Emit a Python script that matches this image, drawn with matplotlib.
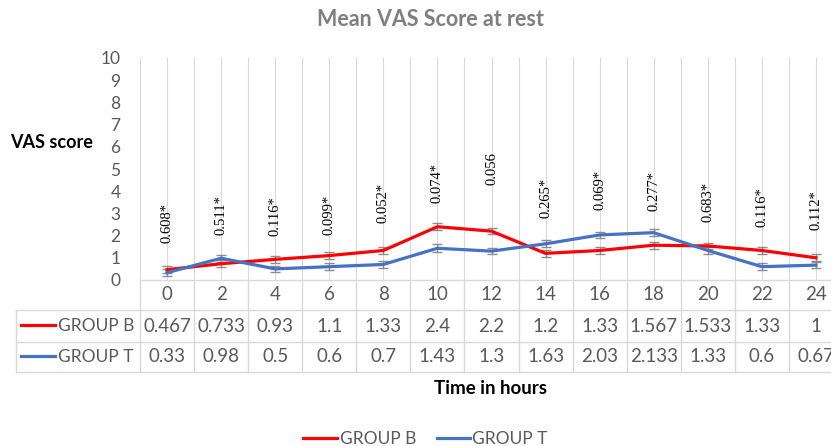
import numpy as np
import matplotlib
matplotlib.use("Agg")
import matplotlib.pyplot as plt
from matplotlib.lines import Line2D
from matplotlib.transforms import blended_transform_factory

# ---- data ----
hours = ["0", "2", "4", "6", "8", "10", "12", "14", "16", "18", "20", "22", "24"]
group_b = [0.467, 0.733, 0.93, 1.1, 1.33, 2.4, 2.2, 1.2, 1.33, 1.567, 1.533, 1.33, 1]
group_t = [0.33, 0.98, 0.5, 0.6, 0.7, 1.43, 1.3, 1.63, 2.03, 2.133, 1.33, 0.6, 0.67]
err_b = [0.15, 0.15, 0.15, 0.15, 0.15, 0.17, 0.15, 0.15, 0.15, 0.15, 0.15, 0.15, 0.15]
err_t = [0.15, 0.16, 0.15, 0.15, 0.15, 0.17, 0.15, 0.15, 0.15, 0.15, 0.15, 0.15, 0.15]
b_labels = ["0.467", "0.733", "0.93", "1.1", "1.33", "2.4", "2.2", "1.2", "1.33", "1.567", "1.533", "1.33", "1"]
t_labels = ["0.33", "0.98", "0.5", "0.6", "0.7", "1.43", "1.3", "1.63", "2.03", "2.133", "1.33", "0.6", "0.67"]
p_values = ["0.608*", "0.511*", "0.116*", "0.099*", "0.052*", "0.074*", "0.056",
            "0.265*", "0.069*", "0.277*", "0.683*", "0.116*", "0.112*"]
p_label_y = [2.57, 2.95, 2.86, 2.93, 3.49, 4.39, 5.0, 3.72, 4.08, 4.03, 3.54, 3.27, 3.15]

W, H = 831, 446
RED = "#FF0000"
BLUE = "#4472C4"
GRID = "#d9d9d9"
TXT = "#595959"
FONT = "Lato"

plt.rcParams["font.family"] = [FONT, "DejaVu Sans"]

fig = plt.figure(figsize=(W / 100, H / 100), dpi=100)

def fx(px):
    return px / W

def fy(py):
    return 1 - py / H

ax_left, ax_right, ax_top, ax_bot = 140, 843, 58, 280
ax = fig.add_axes([fx(ax_left), fy(ax_bot), fx(ax_right - ax_left), (ax_bot - ax_top) / H])
x = np.arange(len(hours))
ax.set_xlim(-0.5, len(hours) - 0.5)
ax.set_ylim(0, 10)
for s in ax.spines.values():
    s.set_visible(False)
ax.set_xticks(np.arange(-0.5, len(hours), 0.5))
ax.set_xticklabels([])
ax.tick_params(axis="x", length=0)
ax.grid(axis="x", color=GRID, lw=0.8)
ax.set_axisbelow(True)
ax.set_yticks(range(0, 11))
ax.tick_params(axis="y", length=0, pad=14, labelsize=12.5, labelcolor=TXT)

ax.errorbar(x, group_b, yerr=err_b, color=RED, lw=2.3, ecolor="#8c8c8c",
            elinewidth=1, capsize=3.5, capthick=1, zorder=3)
ax.errorbar(x, group_t, yerr=err_t, color=BLUE, lw=2.3, ecolor="#8c8c8c",
            elinewidth=1, capsize=3.5, capthick=1, zorder=3)

for xi, lab, yv in zip(x, p_values, p_label_y):
    ax.text(xi, yv, lab, rotation=90, ha="center", va="center",
            family="Liberation Serif", fontsize=10.5, color="black")

# ---- data table below ----
tr = blended_transform_factory(ax.transData, fig.transFigure)
row_y = [280, 310, 342, 372]
key_left = 16
line_kw = dict(color=GRID, lw=1)
fig.add_artist(Line2D([fx(ax_left), fx(ax_right)], [fy(280), fy(280)], **line_kw))
for yy in row_y[1:]:
    fig.add_artist(Line2D([fx(key_left), fx(ax_right)], [fy(yy), fy(yy)], **line_kw))
for b in np.arange(-0.5, len(hours), 1.0):
    fig.add_artist(Line2D([b, b], [fy(280), fy(372)], transform=tr, **line_kw))
fig.add_artist(Line2D([fx(key_left), fx(key_left)], [fy(310), fy(372)], **line_kw))

TFS = 13.5
for xi, h, bl, tl in zip(x, hours, b_labels, t_labels):
    fig.text(xi, fy(295), h, transform=tr, ha="center", va="center", fontsize=TFS, color=TXT)
    fig.text(xi, fy(326), bl, transform=tr, ha="center", va="center", fontsize=TFS, color=TXT)
    fig.text(xi, fy(357), tl, transform=tr, ha="center", va="center", fontsize=TFS, color=TXT)

fig.add_artist(Line2D([fx(21), fx(55)], [fy(325), fy(325)], color=RED, lw=2.3))
fig.add_artist(Line2D([fx(21), fx(55)], [fy(356), fy(356)], color=BLUE, lw=2.3))
fig.text(fx(58), fy(326), "GROUP B", ha="left", va="center", fontsize=12.5, color=TXT)
fig.text(fx(58), fy(357), "GROUP T", ha="left", va="center", fontsize=12.5, color=TXT)

# ---- titles ----
fig.text(fx(430), fy(20), "Mean VAS Score at rest", ha="center", va="center",
         fontsize=15.5, fontweight="bold", color="#7f7f7f")
fig.text(fx(10), fy(142), "VAS score", ha="left", va="center",
         fontsize=13, fontweight="bold", color="black")
fig.text(fx(490), fy(388), "Time in hours", ha="center", va="center",
         fontsize=13.5, fontweight="bold", color="black")

# ---- legend ----
fig.add_artist(Line2D([fx(303), fx(337)], [fy(438), fy(438)], color=RED, lw=2.3))
fig.text(fx(340), fy(439), "GROUP B", ha="left", va="center", fontsize=12.5, color=TXT)
fig.add_artist(Line2D([fx(437), fx(470)], [fy(438), fy(438)], color=BLUE, lw=2.3))
fig.text(fx(472), fy(439), "GROUP T", ha="left", va="center", fontsize=12.5, color=TXT)

fig.savefig("out.png", dpi=100)
